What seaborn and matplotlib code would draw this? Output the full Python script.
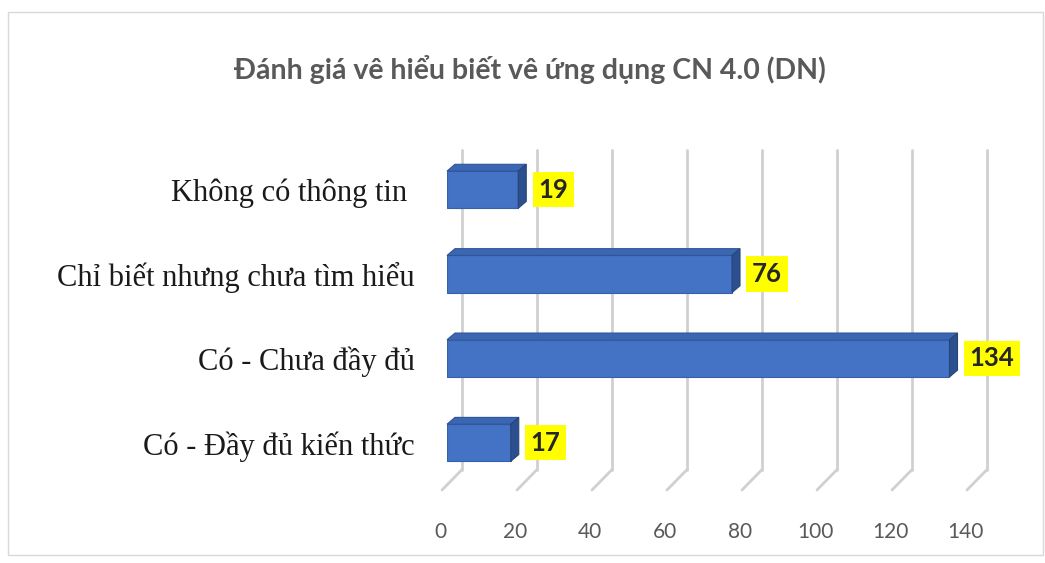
import numpy as np
import pandas as pd
import seaborn as sns
import matplotlib.pyplot as plt
from matplotlib.patches import Polygon, Rectangle
from matplotlib.transforms import ScaledTranslation, blended_transform_factory

categories = ['Không có thông tin ', 'Chỉ biết nhưng chưa tìm hiểu',
              'Có - Chưa đầy đủ', 'Có - Đầy đủ kiến thức']
values = [19, 76, 134, 17]
x_ticks = [0, 20, 40, 60, 80, 100, 120, 140]
title = 'Đánh giá vê hiểu biết vê ứng dụng CN 4.0 (DN)'

df = pd.DataFrame({'cat': categories, 'val': values})

sns.set_style('white')
plt.rcParams['font.family'] = ['Lato', 'DejaVu Sans']

dpi = 100
fig = plt.figure(figsize=(10.45, 5.63), dpi=dpi)
W, H = 1045, 563
ax = fig.add_axes([447 / W, 1 - 490 / H, 525 / W, 340 / H])

sns.barplot(data=df, y='cat', x='val', order=categories, color='#4472C4',
            saturation=1, width=0.44, ax=ax, zorder=3)
ax.set_xlim(0, 140)
ax.set_ylim(3.56, -0.47)
for s in ax.spines.values():
    s.set_visible(False)
ax.set_xlabel('')
ax.set_ylabel('')

def px(dx, dy):
    return ScaledTranslation(dx / dpi, dy / dpi, fig.dpi_scale_trans)

# back-wall gridlines plus the floor diagonals
bt = blended_transform_factory(ax.transData, ax.transAxes)
for t in x_ticks:
    ax.plot([t, t], [1.0, 0.06], transform=bt + px(15, 0), color='#d0d0d0',
            lw=2, clip_on=False, zorder=1)
    x0 = ax.transData.transform((t, 0))[0]
    y0 = ax.transAxes.transform((0, 0.06))[1]
    y1 = ax.transAxes.transform((0, 0.0))[1]
    fig.lines.append(plt.Line2D([x0 + 15, x0 - 5], [y0, y1], transform=None,
                                color='#d0d0d0', lw=2, zorder=1))

# fake 3D faces on the bars
d = 8
for p in ax.patches:
    x, y = p.get_x(), p.get_y()
    w, h = p.get_width(), p.get_height()
    p.set_edgecolor('#3560AA')
    p.set_linewidth(0.8)
    (xa, ya), (xb, yb) = ax.transData.transform([(x, y), (x + w, y + h)])
    top = Polygon([(xa, ya), (xb, ya), (xb + d, ya + d * 0.85), (xa + d, ya + d * 0.85)],
                  closed=True, transform=None, facecolor='#3B66B3',
                  edgecolor='#2F5597', lw=0.8, zorder=4)
    side = Polygon([(xb, ya), (xb + d, ya + d * 0.85), (xb + d, yb + d * 0.85), (xb, yb)],
                   closed=True, transform=None, facecolor='#2C4F8F',
                   edgecolor='#274677', lw=0.8, zorder=4)
    fig.patches.extend([top, side])

# value labels in yellow boxes
for i, v in enumerate(values):
    ax.text(v, i, str(v), transform=ax.transData + px(20, 0),
            ha='left', va='center', fontsize=18.5, fontweight='bold',
            color='#262626', zorder=5,
            bbox=dict(boxstyle='square,pad=0.22', facecolor='#FFFF00',
                      edgecolor='none'))

# category labels
ax.set_yticks(range(len(categories)))
ax.set_yticklabels(categories, family=['Liberation Serif', 'DejaVu Serif'],
                   fontsize=22, color='#1a1a1a')
ax.tick_params(axis='y', length=0, pad=23)

ax.set_xticks(x_ticks)
ax.set_xticklabels([str(t) for t in x_ticks], fontsize=15, color='#595959')
ax.tick_params(axis='x', length=0, pad=23)
for lbl in ax.get_xticklabels():
    lbl.set_transform(lbl.get_transform() + px(-7, 0))

fig.text(530 / W, 1 - 70 / H, title, ha='center', va='center', fontsize=20.5,
         fontweight='bold', color='#595959')

fig.patches.append(Rectangle((8 / W, 8 / H), 1 - 10 / W, 1 - 20 / H,
                             transform=fig.transFigure, fill=False,
                             edgecolor='#d9d9d9', lw=1))

fig.savefig('out.png', dpi=dpi)
